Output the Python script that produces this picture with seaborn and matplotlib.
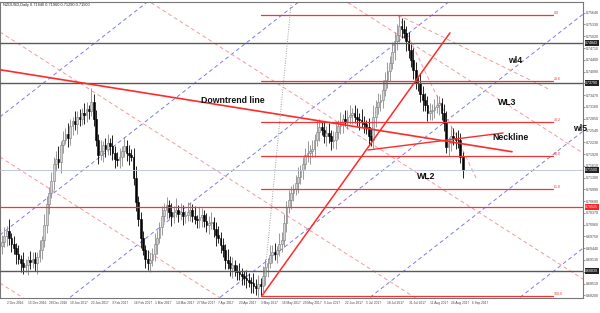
import numpy as np
import pandas as pd
import matplotlib
matplotlib.use("Agg")
import matplotlib.pyplot as plt
import matplotlib.transforms as mtransforms
import seaborn as sns

# ---------------- data ----------------
symbol = "NZDUSD,Daily"
start_date = "2016-11-30"
first_open = 6950  # pips (x1e-4)
close_pips = [
    6960, 6975, 6990, 6970, 6955, 6945, 6930, 6915, 6905, 6895,
    6900, 6912, 6908, 6915, 6905, 6920, 6940, 6965, 7005, 7060,
    7090, 7120, 7165, 7180, 7170, 7215, 7230, 7245, 7235, 7265,
    7280, 7270, 7290, 7285, 7300, 7295, 7310, 7305, 7330, 7285,
    7230, 7190, 7200, 7215, 7205, 7220, 7212, 7195, 7180, 7175,
    7185, 7200, 7212, 7195, 7190, 7185, 7130, 7065, 7020, 6970,
    6940, 6915, 6905, 6912, 6930, 6955, 6970, 7000, 7030, 7045,
    7058, 7040, 7030, 7040, 7045, 7035, 7040, 7030, 7031, 7040,
    7045, 7030, 7020, 7018, 7025, 7031, 7015, 7005, 7010, 7013,
    6995, 6979, 6970, 6952, 6940, 6913, 6905, 6892, 6900, 6885,
    6881, 6875, 6871, 6865, 6860, 6855, 6852, 6845, 6839, 6850,
    6845, 6870, 6895, 6905, 6926, 6935, 6930, 6939, 6955, 6966,
    7010, 7052, 7070, 7089, 7100, 7115, 7131, 7150, 7165, 7190,
    7195, 7200, 7205, 7230, 7250, 7263, 7255, 7240, 7247, 7240,
    7225, 7229, 7250, 7265, 7274, 7285, 7280, 7289, 7295, 7300,
    7290, 7285, 7282, 7275, 7270, 7263, 7240, 7229, 7290, 7316,
    7330, 7334, 7360, 7387, 7410, 7432, 7460, 7490, 7505, 7530,
    7520, 7511, 7490, 7466, 7440, 7413, 7380, 7379, 7350, 7334,
    7320, 7300, 7305, 7308, 7315, 7320, 7326, 7300, 7274, 7210,
    7220, 7240, 7235, 7230, 7229, 7184, 7150,
]
upper_wick = [
    18, 25, 12, 30, 15, 20, 14, 22, 10, 28, 16, 12, 24, 18, 20, 15, 26, 12, 30, 22,
    14, 25, 18, 20, 32, 12, 22, 15, 28, 18, 10, 24, 16, 20, 14, 26, 18, 12, 36, 20,
    22, 15, 28, 12, 20, 25, 14, 30, 18, 16, 22, 12, 26, 18, 20, 14, 24, 30, 16, 20,
    18, 12, 25, 20, 15, 28, 22, 14, 26, 18, 20, 12, 24, 16, 30, 14, 22, 18, 12, 26,
    20, 16, 24, 12, 28, 18, 14, 22, 20, 26, 12, 18, 24, 16, 20, 14, 28, 18, 22, 12,
    16, 24, 18, 14, 22, 20, 12, 26, 18, 24, 16, 28, 20, 14, 26, 18, 22, 12, 30, 20,
    24, 16, 28, 18, 14, 22, 26, 12, 20, 18, 30, 16, 24, 14, 28, 20, 16, 22, 18, 26,
    14, 24, 20, 16, 28, 12, 22, 18, 26, 14, 20, 24, 16, 28, 18, 12, 24, 20, 30, 18,
    22, 16, 26, 20, 24, 18, 28, 22, 30, 28, 20, 26, 18, 24, 16, 30, 20, 14, 26, 22,
    18, 24, 20, 16, 22, 28, 20, 14, 24, 30, 18, 26, 20, 16, 24, 18, 12,
]
lower_wick = [
    20, 14, 26, 18, 22, 16, 28, 12, 24, 18, 14, 26, 20, 16, 22, 28, 12, 24, 18, 20,
    26, 14, 22, 18, 16, 28, 20, 12, 24, 18, 22, 14, 26, 20, 16, 24, 18, 22, 14, 20,
    18, 24, 14, 28, 20, 16, 22, 18, 26, 14, 20, 24, 16, 22, 28, 12, 20, 24, 18, 26,
    14, 22, 18, 24, 16, 20, 26, 12, 22, 18, 24, 16, 28, 20, 14, 22, 18, 26, 20, 16,
    24, 18, 12, 22, 20, 26, 14, 18, 24, 16, 22, 28, 12, 20, 18, 24, 16, 22, 26, 14,
    20, 16, 24, 18, 22, 14, 26, 20, 18, 24, 27, 16, 22, 28, 14, 20, 18, 24, 16, 22,
    18, 24, 14, 22, 20, 16, 26, 18, 24, 12, 20, 28, 16, 22, 18, 24, 14, 20, 26, 18,
    22, 16, 24, 18, 20, 26, 14, 22, 18, 24, 16, 20, 28, 12, 22, 18, 24, 16, 20, 26,
    18, 24, 20, 14, 22, 26, 16, 20, 24, 18, 22, 14, 26, 20, 18, 24, 16, 22, 20, 28,
    16, 22, 18, 24, 20, 14, 26, 18, 22, 16, 24, 20, 18, 26, 22, 16, 21,
]

# horizontal levels
gray_levels = [0.74843, 0.73790, 0.68839]
red_levels = [0.70525]
bid_level = 0.71500

# fibonacci retracement
fib_high, fib_low = 0.7558, 0.6818
fib_levels = [0.0, 23.6, 38.2, 50.0, 61.8, 100.0]
fib_bars = [110, 234.5]

# trend lines: (bar, price) endpoints
downtrend_line = [(-1, 0.7414), (217, 0.7198)]
neckline = [(155.7, 0.72025), (213.2, 0.72473)]
uptrend_line = [(110.5, 0.6818), (190.6, 0.7511)]
dotted_line = [(111, 0.6818), (123, 0.7588)]
peak_fan = [[(168.5, 0.7558), (233.2, 0.7361)], [(168.5, 0.7558), (202.1, 0.71236)]]

# parallel channels (price at bar 0, slope per bar)
blue_channel_p0 = [0.72937, 0.69830, 0.66749, 0.63668, 0.60588, 0.57507]
blue_channel_slope = 0.0004827
red_channel_p0 = [0.68489, 0.71807, 0.75098, 0.78416, 0.81733]
red_channel_slope = -0.000396

annotations = [("Downtrend line", 84.5, 0.7334), ("Neckline", 208.5, 0.7236),
               ("WL2", 176.5, 0.7132), ("WL3", 211, 0.7327), ("wl4", 215.5, 0.7438),
               ("wl5", 243, 0.7258)]

# ---------------- figure ----------------
sns.set_theme(style="white")
plt.rcParams['font.family'] = ['Liberation Sans', 'DejaVu Sans']

df = pd.DataFrame({"close": np.array(close_pips) / 1e4})
df["open"] = np.r_[first_open / 1e4, df["close"].values[:-1]]
df["high"] = np.maximum(df.open, df.close) + np.array(upper_wick) / 1e4
df["low"] = np.minimum(df.open, df.close) - np.array(lower_wick) / 1e4
df["bar"] = np.arange(len(df))
bull = (df.close >= df.open).values

fig = plt.figure(figsize=(6.0, 3.13), dpi=100)
ax = fig.add_axes([0.0, 15 / 313, 583 / 600, 296 / 313])
ax.set_xlim(-0.85, 247.2)
ax.set_ylim(0.68129, 0.75922)

# candles
ax.vlines(df.bar, df.low, df.high, colors=np.where(bull, '#8a8a8a', '#000000'), lw=0.6, zorder=2)
body = np.maximum((df.close - df.open).abs(), 0.00008)
ax.bar(df.bar, body, bottom=np.minimum(df.open, df.close), width=0.75,
       color=np.where(bull, '#d4d4d4', '#000000'), edgecolor=np.where(bull, '#7a7a7a', '#000000'),
       linewidth=0.4, zorder=2)

xl = np.array(ax.get_xlim())
# channels
for p0 in blue_channel_p0:
    ax.plot(xl, p0 + blue_channel_slope * xl, color='#7b7be8', lw=0.7, dashes=(4, 3), zorder=1)
for p0 in red_channel_p0:
    ax.plot(xl, p0 + red_channel_slope * xl, color='#f29a9a', lw=0.7, dashes=(4, 3), zorder=1)
for seg in peak_fan:
    (x0, y0), (x1, y1) = seg
    ax.plot([x0, x1], [y0, y1], color='#f29a9a', lw=0.7, dashes=(4, 3), zorder=1)

# horizontal levels
for lv in gray_levels:
    ax.axhline(lv, color='#5a5a5a', lw=1.0, zorder=3)
for lv in red_levels:
    ax.axhline(lv, color='#ff3030', lw=0.9, zorder=3)
ax.axhline(bid_level, color='#b8bfcc', lw=0.6, zorder=3)

# fibonacci
for lvl in fib_levels:
    p = fib_high - (fib_high - fib_low) * lvl / 100
    ax.plot(fib_bars, [p, p], color='#f03535', lw=0.9, zorder=3)
    ax.text(fib_bars[1] + 0.3, p, f"{lvl:.1f}", color='#f03535', fontsize=2.6, va='bottom', ha='left')

# trend lines
for seg, lw_ in [(downtrend_line, 1.2), (uptrend_line, 1.1), (neckline, 1.0)]:
    (x0, y0), (x1, y1) = seg
    ax.plot([x0, x1], [y0, y1], color='#ff2a2a', lw=lw_, zorder=4)
(x0, y0), (x1, y1) = dotted_line
ax.plot([x0, x1], [y0, y1], color='#a0a0a0', lw=0.7, ls=(0, (1, 1.5)), zorder=4)

for txt, bx, py in annotations:
    ax.text(bx, py, txt, fontsize=6.3, fontweight='bold', color='#111111', va='center', ha='left',
            zorder=6, clip_on=False)

# title
last = df.iloc[-1]
ax.text(0.005, 0.995, f"{symbol} {last.open:.5f} {last.high:.5f} {last.low:.5f} {last.close:.5f}",
        transform=ax.transAxes, fontsize=2.8, va='top', ha='left', color='#222222')

# axes styling
for s in ax.spines.values():
    s.set_color('#777777')
    s.set_linewidth(0.8)
ax.yaxis.tick_right()
yt = np.arange(0.68200, 0.7590, 0.0031)
ax.set_yticks(yt)
ax.set_yticklabels([f"{v:.5f}" for v in yt])
ax.tick_params(axis='y', labelsize=2.6, colors='#444444', length=1.5, width=0.4, pad=0.6)

all_dates = pd.bdate_range(start_date, periods=260)
xt = np.arange(2, 205, 9)
ax.set_xticks(xt)
ax.set_xticklabels([f"{d.day} {d.strftime('%b %Y')}" for d in all_dates[xt]], ha='left')
ax.tick_params(axis='x', labelsize=2.35, colors='#444444', length=1.5, width=0.4, pad=1)

# highlighted price labels
trans = mtransforms.blended_transform_factory(ax.transAxes, ax.transData)
for lv, bg in [(gray_levels[0], '#222222'), (gray_levels[1], '#222222'), (gray_levels[2], '#222222'),
               (red_levels[0], '#ff2020'), (bid_level, '#222222')]:
    ax.text(1.004, lv, f"{lv:.5f}", transform=trans, fontsize=2.6, color='white', va='center', ha='left',
            bbox=dict(boxstyle='square,pad=0.2', fc=bg, ec='none'), clip_on=False, zorder=7)

fig.savefig("out.png", dpi=100)
